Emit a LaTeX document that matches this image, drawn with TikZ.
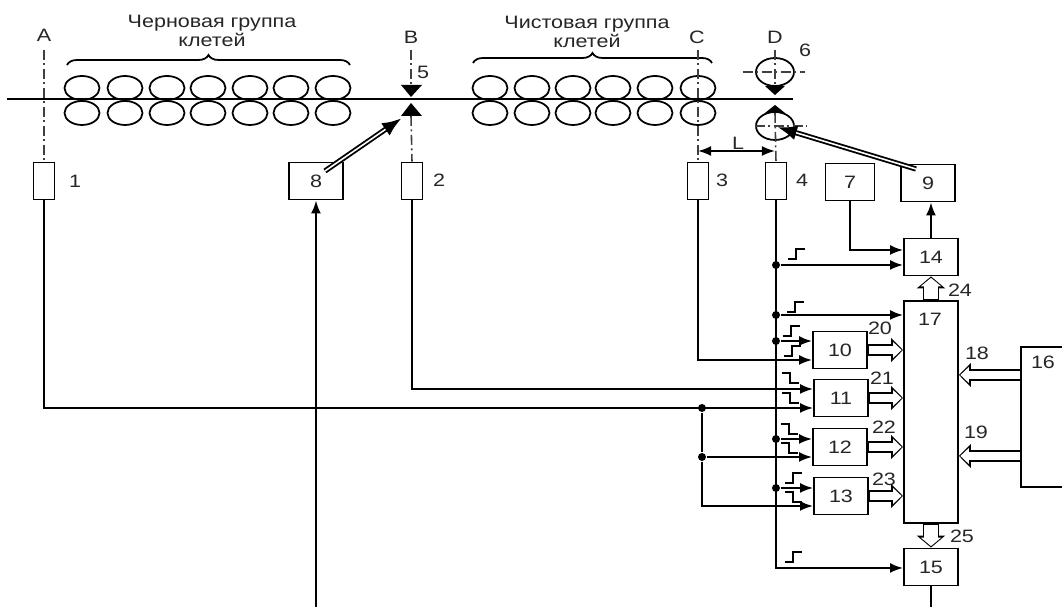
\documentclass[tikz,border=0pt]{standalone}
\usepackage{fontspec}
\setmainfont{Liberation Sans}[FakeStretch=1.2]
\usetikzlibrary{arrows.meta,decorations.pathreplacing}
\tikzset{
  box/.style={draw,line width=.55pt,inner sep=0pt,minimum width=.54cm,minimum height=.37cm},
  sensor/.style={box,minimum width=.21cm},
  tag/.style={inner sep=0pt},
  dot/.style={circle,fill,inner sep=0pt,minimum size=.08cm},
  sig/.style={line width=.55pt,-{Latex[length=.13cm,width=.1cm]}},
  feed/.style={line width=1.5pt,-{Latex[length=.2cm,width=.15cm]},
    postaction={draw=white,line width=.45pt,-,shorten >=.2cm}},
  bus/.style={line width=#1,-{Triangle[length=.12cm,width=#1+.12cm]},
    postaction={draw=white,line width=#1-.03cm,-{Triangle[length=.085cm,width=#1+.04cm]},shorten >=.014cm,shorten <=.014cm}},
  bus/.default=.115cm,
  axisline/.style={line width=.45pt,black!75,dash pattern=on 2.8pt off 1pt on .6pt off 1pt},
  pulse/.style={line width=.45pt},
  roller/.style={line width=.5pt}
}
\begin{document}
\begin{tikzpicture}[x=.01cm,y=-.01cm,font=\fontsize{5.1}{5.4}\selectfont,text=black!85]
\clip (0,0) rectangle (1062,607);
\fill[white] (0,0) rectangle (1062,607);
% strip and stands
\draw[line width=.55pt] (7,99)--(793,99);
\foreach \x in {82,125,167,208,250,291,333,490,532,573,613,655,698}{
  \draw[roller] (\x,88) ellipse (17.5 and 12);
  \draw[roller] (\x,113) ellipse (17.5 and 12);
}
\draw[roller,decorate,decoration={brace,amplitude=.1cm}] (67,65)--(350,65);
\draw[roller,decorate,decoration={brace,amplitude=.1cm}] (473,63)--(712,63);
\node[tag,align=center] (rough) at (212,31) {Черновая группа\\клетей};
\node[tag,align=center] (finish) at (587,32) {Чистовая группа\\клетей};
% section lines
\node[tag] (secA) at (44,35) {A};
\node[tag] (secB) at (411,37) {B};
\node[tag] (secC) at (697,37) {C};
\node[tag] (secD) at (775,37) {D};
% blocks
\node[sensor] (b1) at (44,181) {};
\node[sensor] (b2) at (412,181) {};
\node[sensor] (b3) at (698,181) {};
\node[sensor] (b4) at (776,181) {};
\node[box] (b8) at (316,181) {8};
\node[box,minimum width=.49cm] (b7) at (850,182) {7};
\node[box] (b9) at (928,183) {9};
\node[box] (b14) at (931,257) {14};
\node[box,minimum height=2.21cm] (b17) at (931,412) {};
\node[box] (b15) at (931,567) {15};
\node[box] (b10) at (840,350) {10};
\node[box] (b11) at (841,398) {11};
\node[box] (b12) at (840,447) {12};
\node[box] (b13) at (841,496) {13};
\node[box,minimum width=.9cm,minimum height=1.4cm] (b16) at (1066,417) {};
\node[tag] (t1) at (75,181) {1};
\node[tag] (t2) at (439,180) {2};
\node[tag] (t3) at (722,180) {3};
\node[tag] (t4) at (802,180) {4};
\node[tag] (t5) at (423,72) {5};
\node[tag] (t6) at (805,50) {6};
\node[tag] (t16) at (1043,362) {16};
\node[tag] (t17) at (930,319) {17};
\node[tag] (t18) at (977,353) {18};
\node[tag] (t19) at (976,432) {19};
\node[tag] (t20) at (880,328) {20};
\node[tag] (t21) at (882,378) {21};
\node[tag] (t22) at (884,427) {22};
\node[tag] (t23) at (884,479) {23};
\node[tag] (t24) at (960,290) {24};
\node[tag] (t25) at (962,536) {25};
\node[tag] (tL) at (738,143) {L};
% rolls of the flying shears
\fill (401,85)--(422,85)--(411,97)--cycle;
\fill (401,116)--(422,116)--(411,103)--cycle;
\draw[roller] (775,72) ellipse (19 and 14);
\draw[roller] (775,126) ellipse (19 and 14);
\fill (765,86)--(785,86)--(775,95)--cycle;
\fill (765,113)--(785,113)--(775,105)--cycle;
\draw[axisline] (743,72)--(805,72);
\draw[axisline] (755,126)--(807,126);
\coordinate (c44) at (44,50);
\coordinate (cB1) at (411,50);
\coordinate (cB2) at (411,85);
\coordinate (cB3) at (411,116);
\coordinate (cC) at (698,50);
\coordinate (cD1) at (775,50);
\coordinate (cD2) at (775,86);
\coordinate (cD3) at (775,113);
\draw[axisline] (c44)--(b1.north);
\draw[axisline] (cB1)--(cB2);
\draw[axisline] (cB3)--(b2.north);
\draw[axisline] (cC)--(b3.north);
\draw[axisline] (cD1)--(cD2);
\draw[axisline] (cD3)--(b4.north);
\coordinate (dimC) at (698,151);
\coordinate (dimD) at (775,151);
\draw[sig,{Latex[length=.13cm,width=.1cm]}-{Latex[length=.13cm,width=.1cm]}] (dimC)--(dimD);
% drives
\coordinate (s8) at (325,171);
\coordinate (e8) at (402,118);
\coordinate (s9) at (916,169);
\coordinate (e9) at (777,127);
\draw[feed] (s8)--(e8);
\draw[feed] (s9)--(e9);
\coordinate (low8) at (316,607);
\coordinate (low15) at (931,607);
\draw[sig] (low8)--(b8.south);
\draw[line width=.55pt] (b15.south)--(low15);
% junctions on the line of sensor 4
\node[dot] (j14) at (776,265) {};
\node[dot] (j17) at (776,315) {};
\node[dot] (j10) at (776,341) {};
\node[dot] (j12) at (776,439) {};
\node[dot] (j13) at (776,488) {};
\node[dot] (k11) at (702,408) {};
\node[dot] (k12) at (702,457) {};
\coordinate (c15) at (776,568);
\draw[sig] (b4.south)--(c15)--(c15-|b15.west);
\draw[sig] (j14)--(j14-|b14.west);
\draw[sig] (j17)--(j17-|b17.west);
\draw[sig] (j10)--(j10-|b10.west);
\draw[sig] (j12)--(j12-|b12.west);
\draw[sig] (j13)--(j13-|b13.west);
% sensor lines
\coordinate (c3) at (698,360);
\coordinate (c2) at (412,389);
\coordinate (c1) at (44,408);
\coordinate (c13) at (702,506);
\coordinate (c7) at (850,250);
\draw[sig] (b3.south)--(c3)--(c3-|b10.west);
\draw[sig] (b2.south)--(c2)--(c2-|b11.west);
\draw[sig] (b1.south)--(c1)--(c1-|b11.west);
\draw[line width=.55pt] (k11)--(k12);
\draw[sig] (k12)--(c13)--(c13-|b13.west);
\draw[sig] (k12)--(k12-|b12.west);
\draw[sig] (b7.south)--(c7)--(c7-|b14.west);
\draw[sig] (b14.north)--(b14.north|-b9.south);
% pulse signs
\foreach \x/\y in {788/259,787/312,783/336,784/356,785/483,785/562}{
  \draw[pulse] (\x,\y)--++(8,0)--++(0,-10)--++(9,0);
}
\foreach \x/\y in {782/373,782/393,781/424,781/443,785/492}{
  \draw[pulse] (\x,\y)--++(8,0)--++(0,10)--++(9,0);
}
% buses
\coordinate (c18) at (1021,375);
\coordinate (c19) at (1021,456);
\draw[bus] (b10.east)--(b10.east-|b17.west);
\draw[bus] (b11.east)--(b11.east-|b17.west);
\draw[bus] (b12.east)--(b12.east-|b17.west);
\draw[bus] (b13.east)--(b13.east-|b17.west);
\draw[bus] (c18)--(c18-|b17.east);
\draw[bus] (c19)--(c19-|b17.east);
\draw[bus=.16cm] (b17.north)--(b14.south);
\draw[bus=.16cm] (b17.south)--(b15.north);
\end{tikzpicture}
\end{document}
